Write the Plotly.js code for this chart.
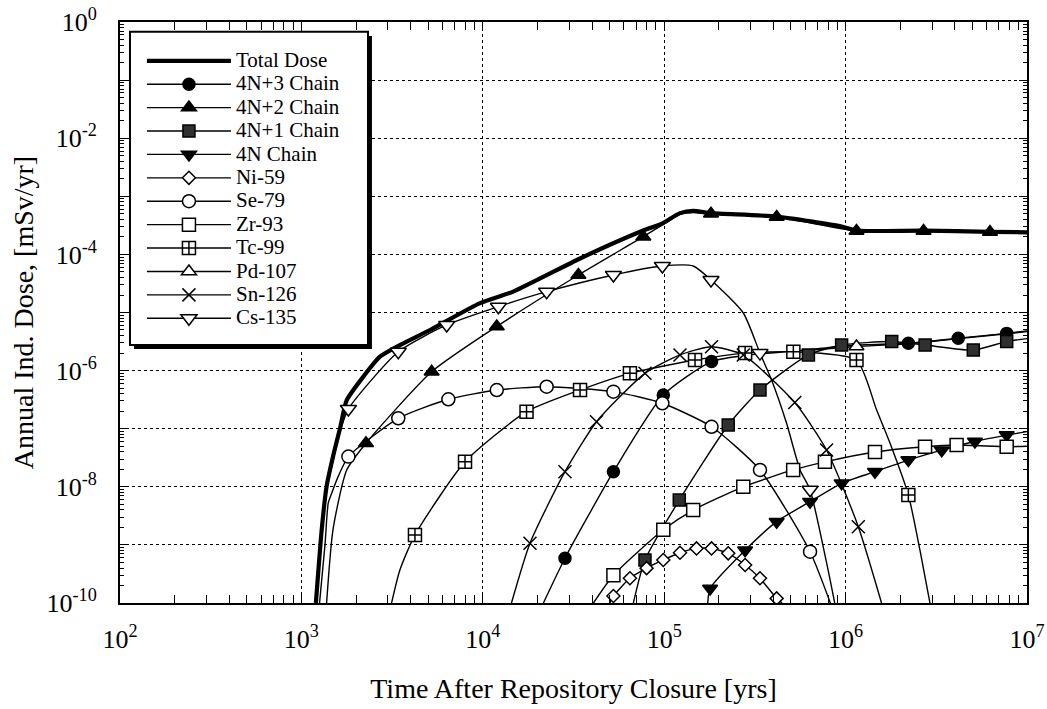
<!DOCTYPE html>
<html><head><meta charset="utf-8">
<script src="https://cdn.plot.ly/plotly-3.0.1.min.js"></script>
<style>html,body{margin:0;padding:0;background:#fff}#chart{width:1047px;height:709px}
#chart .legendtext{font-size:21px !important;}
#chart .legend .scrollbox{clip-path:none !important;}</style>
</head><body><div id="chart"></div>
<script>
// ---- data (time in years, dose in mSv/yr) ----
const total_t = [1202, 1294, 1377, 1493, 1633, 1778, 2193, 2710, 3490, 5117, 9660, 14720, 34360, 73620, 97700, 122200, 144500, 181100, 416900, 950600, 1148000, 2690000, 6250000, 10000000];
const total_d = [1e-10, 1.82e-9, 1.02e-8, 3.3e-8, 1.02e-7, 3.09e-7, 7.85e-7, 1.74e-6, 2.75e-6, 5.0e-6, 1.45e-5, 2.29e-5, 8.5e-5, 2.45e-4, 3.43e-4, 5.13e-4, 5.62e-4, 5.13e-4, 4.47e-4, 3.02e-4, 2.57e-4, 2.57e-4, 2.45e-4, 2.4e-4];

const n3_t = [21580, 28380, 52480, 98860, 182400, 316200, 631000, 1122000, 2218000, 4178000, 7727000, 10000000];
const n3_d = [1e-10, 5.9e-10, 1.82e-8, 3.8e-7, 1.43e-6, 1.9e-6, 2.29e-6, 2.75e-6, 2.95e-6, 3.6e-6, 4.37e-6, 4.8e-6];
const n3_mt = [28380, 52480, 98860, 182400, 2218000, 4178000, 7727000];
const n3_md = [5.9e-10, 1.82e-8, 3.8e-7, 1.43e-6, 2.95e-6, 3.6e-6, 4.37e-6];

const n2_t = [1377, 1493, 1778, 2270, 5224, 11940, 33650, 76740, 100000, 122200, 144500, 181100, 416900, 1148000, 2690000, 6250000, 10000000];
const n2_d = [1e-10, 1.82e-9, 1.95e-8, 5.62e-8, 9.55e-7, 5.75e-6, 4.42e-5, 2.02e-4, 3.35e-4, 4.9e-4, 5.25e-4, 4.95e-4, 4.4e-4, 2.54e-4, 2.54e-4, 2.42e-4, 2.37e-4];
const n2_mt = [2270, 5224, 11940, 33650, 76740, 181100, 416900, 1148000, 2690000, 6250000];
const n2_md = [5.62e-8, 9.55e-7, 5.75e-6, 4.42e-5, 2.02e-4, 5.0e-4, 4.4e-4, 2.54e-4, 2.54e-4, 2.42e-4];

const n1_t = [67610, 78340, 121100, 225400, 337300, 623700, 950600, 1795000, 2742000, 5058000, 7727000, 10000000];
const n1_d = [1e-10, 5.5e-10, 5.9e-9, 1.16e-7, 4.63e-7, 1.86e-6, 2.75e-6, 3.16e-6, 2.75e-6, 2.26e-6, 3.16e-6, 3.55e-6];
const n1_mt = [78340, 121100, 225400, 337300, 623700, 950600, 1795000, 2742000, 5058000, 7727000];
const n1_md = [5.5e-10, 5.9e-9, 1.16e-7, 4.63e-7, 1.86e-6, 2.75e-6, 3.16e-6, 2.75e-6, 2.26e-6, 3.16e-6];

const n0_t = [173800, 179100, 279300, 416900, 636800, 950600, 1452000, 2218000, 3388000, 5164000, 7727000, 10000000];
const n0_d = [1e-10, 1.78e-10, 8.1e-10, 2.51e-9, 5.55e-9, 1.15e-8, 1.82e-8, 2.88e-8, 4.27e-8, 6.03e-8, 7.76e-8, 8.9e-8];
const n0_mt = [179100, 279300, 416900, 636800, 950600, 1452000, 2218000, 3388000, 5164000, 7727000];
const n0_md = [1.78e-10, 8.1e-10, 2.51e-9, 5.55e-9, 1.15e-8, 1.82e-8, 2.88e-8, 4.27e-8, 6.03e-8, 7.76e-8];

const ni_t = [50120, 52480, 64710, 79980, 98860, 122200, 150700, 182400, 225400, 279300, 337300, 416900, 446700];
const ni_d = [1e-10, 1.32e-10, 2.66e-10, 3.98e-10, 5.5e-10, 7.33e-10, 8.7e-10, 8.7e-10, 7.16e-10, 4.51e-10, 2.66e-10, 1.2e-10, 1e-10];
const ni_mt = [52480, 64710, 79980, 98860, 122200, 150700, 182400, 225400, 279300, 337300, 416900];
const ni_md = [1.32e-10, 2.66e-10, 3.98e-10, 5.5e-10, 7.33e-10, 8.7e-10, 8.7e-10, 7.16e-10, 4.51e-10, 2.66e-10, 1.2e-10];

const se_t = [1259, 1349, 1406, 1469, 1596, 1816, 3420, 6457, 11940, 22490, 52480, 97720, 182400, 337300, 636800, 824100];
const se_d = [1e-10, 1e-9, 5.25e-9, 7.76e-9, 1.51e-8, 3.31e-8, 1.51e-7, 3.21e-7, 4.63e-7, 5.28e-7, 4.34e-7, 2.74e-7, 1.08e-7, 1.95e-8, 7.64e-10, 1e-10];
const se_mt = [1816, 3420, 6457, 11940, 22490, 52480, 97720, 182400, 337300, 636800];
const se_md = [3.31e-8, 1.51e-7, 3.21e-7, 4.63e-7, 5.28e-7, 4.34e-7, 2.74e-7, 1.08e-7, 1.95e-8, 7.64e-10];

const zr_t = [40740, 52480, 98860, 144500, 272900, 514000, 769100, 1452000, 2742000, 4093000, 7727000, 10000000];
const zr_d = [1e-10, 3.0e-10, 1.82e-9, 3.98e-9, 1e-8, 1.95e-8, 2.69e-8, 3.98e-8, 4.9e-8, 5.25e-8, 4.9e-8, 5.0e-8];
const zr_mt = [52480, 98860, 144500, 272900, 514000, 769100, 1452000, 2742000, 4093000, 7727000];
const zr_md = [3.0e-10, 1.82e-9, 3.98e-9, 1e-8, 1.95e-8, 2.69e-8, 3.98e-8, 4.9e-8, 5.25e-8, 4.9e-8];

const tc_t = [3141, 3491, 4227, 7980, 17420, 34360, 64710, 147900, 279300, 515200, 1148000, 1483000, 1758000, 2218000, 2570000, 2917000];
const tc_d = [1e-10, 3.7e-10, 1.48e-9, 2.7e-8, 1.96e-7, 4.63e-7, 8.97e-7, 1.52e-6, 2.0e-6, 2.11e-6, 1.52e-6, 2.09e-7, 5.62e-8, 7.24e-9, 8.1e-10, 1e-10];
const tc_mt = [4227, 7980, 17420, 34360, 64710, 147900, 279300, 515200, 1148000, 2218000];
const tc_md = [1.48e-9, 2.7e-8, 1.96e-7, 4.63e-7, 8.97e-7, 1.52e-6, 2.0e-6, 2.11e-6, 1.52e-6, 7.24e-9];

const pd_t = [631000, 1148000, 2218000, 4178000, 7727000, 10000000];
const pd_d = [2.25e-6, 2.6e-6, 2.9e-6, 3.55e-6, 4.3e-6, 4.7e-6];
const pd_mt = [1148000];
const pd_md = [2.6e-6];

const sn_t = [14390, 18200, 28380, 42360, 78340, 122200, 182400, 272900, 524800, 785200, 1175000, 1578000];
const sn_d = [1e-10, 1.07e-9, 1.82e-8, 1.32e-7, 8.97e-7, 1.86e-6, 2.58e-6, 1.86e-6, 2.82e-7, 4.3e-8, 2.06e-9, 1e-10];
const sn_mt = [18200, 28380, 42360, 78340, 122200, 182400, 272900, 524800, 785200, 1175000];
const sn_md = [1.07e-9, 1.82e-8, 1.32e-7, 8.97e-7, 1.86e-6, 2.58e-6, 1.86e-6, 2.82e-7, 4.3e-8, 2.06e-9];

const cs_t = [1202, 1294, 1377, 1493, 1633, 1816, 3420, 6324, 12190, 22490, 52480, 97720, 144500, 181100, 272900, 337300, 390800, 473200, 561000, 636800, 787000, 871000];
const cs_d = [1e-10, 1.58e-9, 8.9e-9, 2.8e-8, 8.9e-8, 2.19e-7, 2.11e-6, 6.1e-6, 1.26e-5, 2.28e-5, 4.42e-5, 6.31e-5, 6.31e-5, 3.63e-5, 9.8e-6, 2.0e-6, 6.9e-7, 1.23e-7, 1.95e-8, 8.9e-9, 4.8e-10, 1e-10];
const cs_mt = [1816, 3420, 6324, 12190, 22490, 52480, 97720, 181100, 337300, 636800];
const cs_md = [2.19e-7, 2.11e-6, 6.1e-6, 1.26e-5, 2.28e-5, 4.42e-5, 6.31e-5, 3.63e-5, 2.0e-6, 8.9e-9];

const seriesNames = ['Total Dose', '4N+3 Chain', '4N+2 Chain', '4N+1 Chain', '4N Chain', 'Ni-59', 'Se-79', 'Zr-93', 'Tc-99', 'Pd-107', 'Sn-126', 'Cs-135'];

const xTickVals = [1e2, 1e3, 1e4, 1e5, 1e6, 1e7];
const xTickText = ['10<sup>2</sup>', '10<sup>3</sup>', '10<sup>4</sup>', '10<sup>5</sup>', '10<sup>6</sup>', '10<sup>7</sup>'];
const yTickVals = [1e-10, 1e-8, 1e-6, 1e-4, 1e-2, 1];
const yTickText = ['10<sup>-10</sup>', '10<sup>-8</sup>', '10<sup>-6</sup>', '10<sup>-4</sup>', '10<sup>-2</sup>', '10<sup>0</sup>'];
const yOddDecades = [1e-9, 1e-7, 1e-5, 1e-3, 1e-1];

// ---- styling / trace building ----
const curves = [
  {t: total_t, d: total_d, mt: [], md: [], sym: null, fill: 'black', lw: 4.2, size: 0},
  {t: n3_t, d: n3_d, mt: n3_mt, md: n3_md, sym: 'circle', fill: 'black', lw: 1.4, size: 12},
  {t: n2_t, d: n2_d, mt: n2_mt, md: n2_md, sym: 'triangle-up', fill: 'black', lw: 1.4, size: 13},
  {t: n1_t, d: n1_d, mt: n1_mt, md: n1_md, sym: 'square', fill: '#303030', lw: 1.4, size: 12},
  {t: n0_t, d: n0_d, mt: n0_mt, md: n0_md, sym: 'triangle-down', fill: 'black', lw: 1.4, size: 13},
  {t: ni_t, d: ni_d, mt: ni_mt, md: ni_md, sym: 'diamond', fill: 'white', lw: 1.4, size: 10},
  {t: se_t, d: se_d, mt: se_mt, md: se_md, sym: 'circle', fill: 'white', lw: 1.4, size: 13},
  {t: zr_t, d: zr_d, mt: zr_mt, md: zr_md, sym: 'square', fill: 'white', lw: 1.4, size: 13},
  {t: tc_t, d: tc_d, mt: tc_mt, md: tc_md, sym: 'square-cross', fill: 'white', lw: 1.4, size: 13},
  {t: pd_t, d: pd_d, mt: pd_mt, md: pd_md, sym: 'triangle-up', fill: 'white', lw: 1.4, size: 13},
  {t: sn_t, d: sn_d, mt: sn_mt, md: sn_md, sym: 'x-thin', fill: 'black', lw: 1.4, size: 13},
  {t: cs_t, d: cs_d, mt: cs_mt, md: cs_md, sym: 'triangle-down', fill: 'white', lw: 1.4, size: 14}
];

const traces = [];
// helper trace so the odd-decade grid axis is drawn
traces.push({x: [null], y: [null], yaxis: 'y2', type: 'scatter', mode: 'lines', showlegend: false, hoverinfo: 'skip'});
curves.forEach(c => {
  traces.push({x: c.t, y: c.d, type: 'scatter', mode: 'lines', showlegend: false, hoverinfo: 'skip',
    line: {color: 'black', width: c.lw, shape: 'spline', smoothing: 0.6}});
});
curves.forEach(c => {
  if (!c.sym) return;
  traces.push({x: c.mt, y: c.md, type: 'scatter', mode: 'markers', showlegend: false, hoverinfo: 'skip',
    marker: {symbol: c.sym, size: c.size, color: c.fill, line: {color: 'black', width: 1.5}}});
});
curves.forEach((c, i) => {
  const tr = {x: [null], y: [null], type: 'scatter', name: seriesNames[i],
    mode: c.sym ? 'lines+markers' : 'lines',
    line: {color: 'black', width: c.lw}};
  if (c.sym) tr.marker = {symbol: c.sym, size: c.size, color: c.fill, line: {color: 'black', width: 1.5}};
  traces.push(tr);
});

function minorVals(lo, hi) {
  const v = [];
  for (let e = lo; e < hi; e++) for (let k = 2; k <= 9; k++) v.push(k * Math.pow(10, e));
  return v;
}

const FONT = 'Liberation Serif, Times New Roman, serif';
const gridStyle = {showgrid: true, gridcolor: 'black', gridwidth: 1, griddash: 'dot', zeroline: false};
const layout = {
  width: 1047, height: 709,
  margin: {l: 120, r: 20, t: 22, b: 106},
  paper_bgcolor: 'white', plot_bgcolor: 'white',
  font: {family: FONT, color: 'black', size: 22},
  showlegend: true,
  legend: {x: 0.0242, y: 0.962, xanchor: 'left', yanchor: 'top', bgcolor: 'rgba(0,0,0,0)', borderwidth: 0,
    font: {family: FONT, size: 15.7, color: 'black'}, itemwidth: 84, tracegroupgap: 0},
  xaxis: Object.assign({type: 'log', range: [2, 7], tickmode: 'array', tickvals: xTickVals, ticktext: xTickText,
    ticks: 'inside', ticklen: 8, tickwidth: 1, tickcolor: 'black', mirror: 'allticks',
    showline: true, linecolor: 'black', linewidth: 2,
    tickfont: {family: FONT, size: 26}, ticklabelstandoff: 12,
    minor: {tickmode: 'array', tickvals: minorVals(2, 7), ticks: 'inside', ticklen: 4, tickcolor: 'black', showgrid: false},
    title: {text: 'Time After Repository Closure [yrs]', font: {family: FONT, size: 28}, standoff: 25}}, gridStyle),
  yaxis: Object.assign({type: 'log', range: [-10, 0], tickmode: 'array', tickvals: yTickVals, ticktext: yTickText,
    ticks: 'inside', ticklen: 8, tickwidth: 1, tickcolor: 'black', mirror: 'allticks',
    showline: true, linecolor: 'black', linewidth: 2,
    tickfont: {family: FONT, size: 26}, ticklabelstandoff: 16,
    minor: {tickmode: 'array', tickvals: minorVals(-10, 0), ticks: 'inside', ticklen: 4, tickcolor: 'black', showgrid: false},
    title: {text: 'Annual Ind. Dose, [mSv/yr]', font: {family: FONT, size: 28}, standoff: 5}}, gridStyle),
  yaxis2: Object.assign({type: 'log', range: [-10, 0], overlaying: 'y', side: 'left', tickmode: 'array',
    tickvals: yOddDecades, showticklabels: false, ticks: 'inside', ticklen: 8, tickcolor: 'black',
    mirror: 'allticks', showline: false}, gridStyle),
  shapes: [
    {type: 'rect', xref: 'paper', yref: 'paper', x0: 0.0154, x1: 0.2778, y0: 0.4372, y1: 0.976,
      fillcolor: 'black', line: {width: 0}, layer: 'above'},
    {type: 'rect', xref: 'paper', yref: 'paper', x0: 0.011, x1: 0.2734, y0: 0.444, y1: 0.9833,
      fillcolor: 'white', line: {color: 'black', width: 2}, layer: 'above'}
  ]
};

Plotly.newPlot('chart', traces, layout, {displayModeBar: false, staticPlot: true});
</script>
</body></html>
